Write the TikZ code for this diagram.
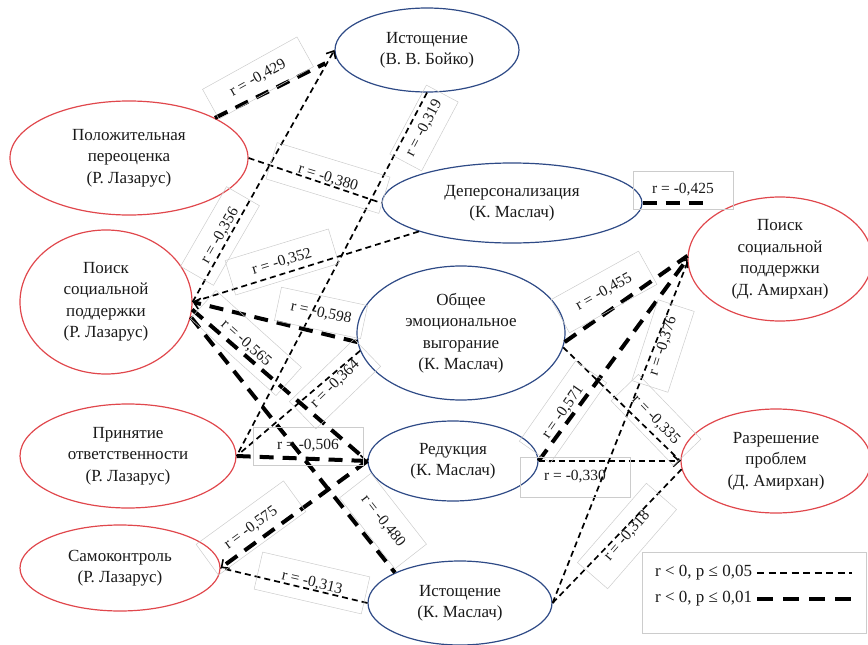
\documentclass[tikz,border=0pt]{standalone}
\usepackage{fontspec}
\setmainfont{Liberation Serif}
\usetikzlibrary{shapes.geometric,arrows.meta}
\definecolor{ered}{HTML}{E0474C}
\definecolor{eblue}{HTML}{2E4A86}
\definecolor{tx}{HTML}{1A1A1A}
\begin{document}
\begin{tikzpicture}[x=1pt,y=-1pt,
  ell/.style={ellipse, draw, line width=1.2pt, align=center, inner sep=0pt, text=tx,
    font=\fontsize{17}{21.5}\selectfont},
  redell/.style={ell, draw=ered},
  blueell/.style={ell, draw=eblue},
  weak/.style={draw=black, line width=1.7pt, dash pattern=on 6pt off 4pt},
  strong/.style={draw=black, line width=4pt, dash pattern=on 14pt off 9pt},
  tip/.style={-{Straight Barb[length=6pt,width=11pt,line width=1.6pt]}},
  lbl/.style={draw=gray!40, line width=0.5pt, inner sep=0pt, text=tx,
    font=\fontsize{15.5}{16}\selectfont},
  legtxt/.style={anchor=west, inner sep=0pt, text=tx, font=\fontsize{17}{17}\selectfont}
]
\useasboundingbox (0,0) rectangle (868,645);

% ellipses
\node[blueell, minimum width=184pt, minimum height=84pt] (B) at (427,50) {Истощение\\(В. В. Бойко)};
\node[redell, minimum width=238pt, minimum height=114pt] (PP) at (129,158) {Положительная\\переоценка\\(Р. Лазарус)};
\node[redell, minimum width=172pt, minimum height=144pt] (PSL) at (106,302) {Поиск\\социальной\\поддержки\\(Р. Лазарус)};
\node[blueell, minimum width=260pt, minimum height=80pt] (D) at (512,203) {Деперсонализация\\(К. Маслач)};
\node[blueell, minimum width=208pt, minimum height=134pt] (O) at (461,333) {Общее\\эмоциональное\\выгорание\\(К. Маслач)};
\node[redell, minimum width=184pt, minimum height=124pt] (PSA) at (780,259) {Поиск\\социальной\\поддержки\\(Д. Амирхан)};
\node[redell, minimum width=216pt, minimum height=104pt] (PO) at (128,456) {Принятие\\ответственности\\(Р. Лазарус)};
\node[blueell, minimum width=170pt, minimum height=80pt] (R) at (453,461) {Редукция\\(К. Маслач)};
\node[redell, minimum width=190pt, minimum height=104pt] (RP) at (776,461) {Разрешение\\проблем\\(Д. Амирхан)};
\node[redell, minimum width=200pt, minimum height=86pt] (S) at (120,568) {Самоконтроль\\(Р. Лазарус)};
\node[blueell, minimum width=184pt, minimum height=84pt] (IM) at (460,603) {Истощение\\(К. Маслач)};

% connectors
\draw[strong, shorten >=12pt] (PP.25) -- (B.185);
\draw[weak, tip] (PSL.east) -- (B.west);
\draw[weak] (PP.east) -- (D.west);
\draw[weak] (B.south) -- (PO.east);
\draw[weak] (D.197) -- (PSL.east);
\draw[strong] (D.east) -- (D.east -| PSA.150);
\draw[strong, tip] (O.185) -- (PSL.east);
\draw[weak] (O.190) -- (PO.east);
\draw[strong] (PSL.355) -- (R.west);
\draw[strong] (PSL.350) -- (IM.155);
\draw[strong, tip] (PO.east) -- (R.west);
\draw[strong, tip] (R.west) -- (S.east);
\draw[weak] (IM.west) -- (S.east);
\draw[strong] (O.355) -- (PSA.178);
\draw[strong, tip] (R.east) -- (PSA.180);
\draw[weak] (IM.east) -- (PSA.182);
\draw[weak] (O.352) -- (RP.west);
\draw[weak, tip] (R.east) -- (RP.west);
\draw[weak] (IM.east) -- (RP.185);

% labels
\node[lbl, rotate=29, minimum width=108pt, minimum height=34pt] (l1) at (258,78) {r = -0,429};
\node[lbl, rotate=-17, minimum width=118pt, minimum height=38pt] (l2) at (328,178) {r = -0,380};
\node[lbl, rotate=62, minimum width=78pt, minimum height=36pt] (l3) at (424,128) {r = -0,319};
\node[lbl, rotate=60, minimum width=92pt, minimum height=38pt] (l4) at (220,236) {r = -0,356};
\node[lbl, rotate=17, minimum width=108pt, minimum height=36pt] (l5) at (282,262) {r = -0,352};
\node[lbl, minimum width=100pt, minimum height=38pt] (l6) at (683,190) {r = -0,425};
\node[lbl, rotate=-12, minimum width=88pt, minimum height=34pt] (l7) at (321,313) {r = -0,598};
\node[lbl, rotate=44, minimum width=90pt, minimum height=38pt] (l8) at (335,384) {r = -0,364};
\node[lbl, rotate=-42, minimum width=115pt, minimum height=38pt] (l9) at (246,343) {r = -0,565};
\node[lbl, minimum width=110pt, minimum height=38pt] (l10) at (308,446) {r = -0,506};
\node[lbl, rotate=36, minimum width=108pt, minimum height=38pt] (l11) at (251,528) {r = -0,575};
\node[lbl, rotate=-13, minimum width=110pt, minimum height=38pt] (l12) at (312,583) {r = -0,313};
\node[lbl, rotate=-52, minimum width=90pt, minimum height=40pt] (l13) at (383,521) {r = -0,480};
\node[lbl, rotate=29, minimum width=100pt, minimum height=38pt] (l14) at (604,292) {r = -0,455};
\node[lbl, rotate=55, minimum width=98pt, minimum height=38pt] (l15) at (563,412) {r = -0,571};
\node[lbl, rotate=72, minimum width=85pt, minimum height=38pt] (l16) at (663,346) {r = -0,376};
\node[lbl, rotate=-46, minimum width=90pt, minimum height=38pt] (l17) at (656,420) {r = -0,335};
\node[lbl, minimum width=110pt, minimum height=40pt] (l18) at (575,477) {r = -0,330};
\node[lbl, rotate=49, minimum width=105pt, minimum height=40pt] (l19) at (627,536) {r = -0,318};

% legend
\node[draw=gray!40, line width=0.6pt, minimum width=224pt, minimum height=81pt, anchor=north west, inner sep=0pt] (leg) at (642,552) {};
\node[legtxt] (lg1) at (655,573) {r < 0, p ≤ 0,05};
\node[legtxt] (lg2) at (655,599) {r < 0, p ≤ 0,01};
\coordinate (lg1e) at (852,573);
\coordinate (lg2e) at (852,599);
\draw[weak, dash pattern=on 7pt off 4.5pt] ([xshift=5pt]lg1.east) -- (lg1e);
\draw[strong, dash pattern=on 16pt off 10pt] ([xshift=5pt]lg2.east) -- (lg2e);
\end{tikzpicture}
\end{document}
